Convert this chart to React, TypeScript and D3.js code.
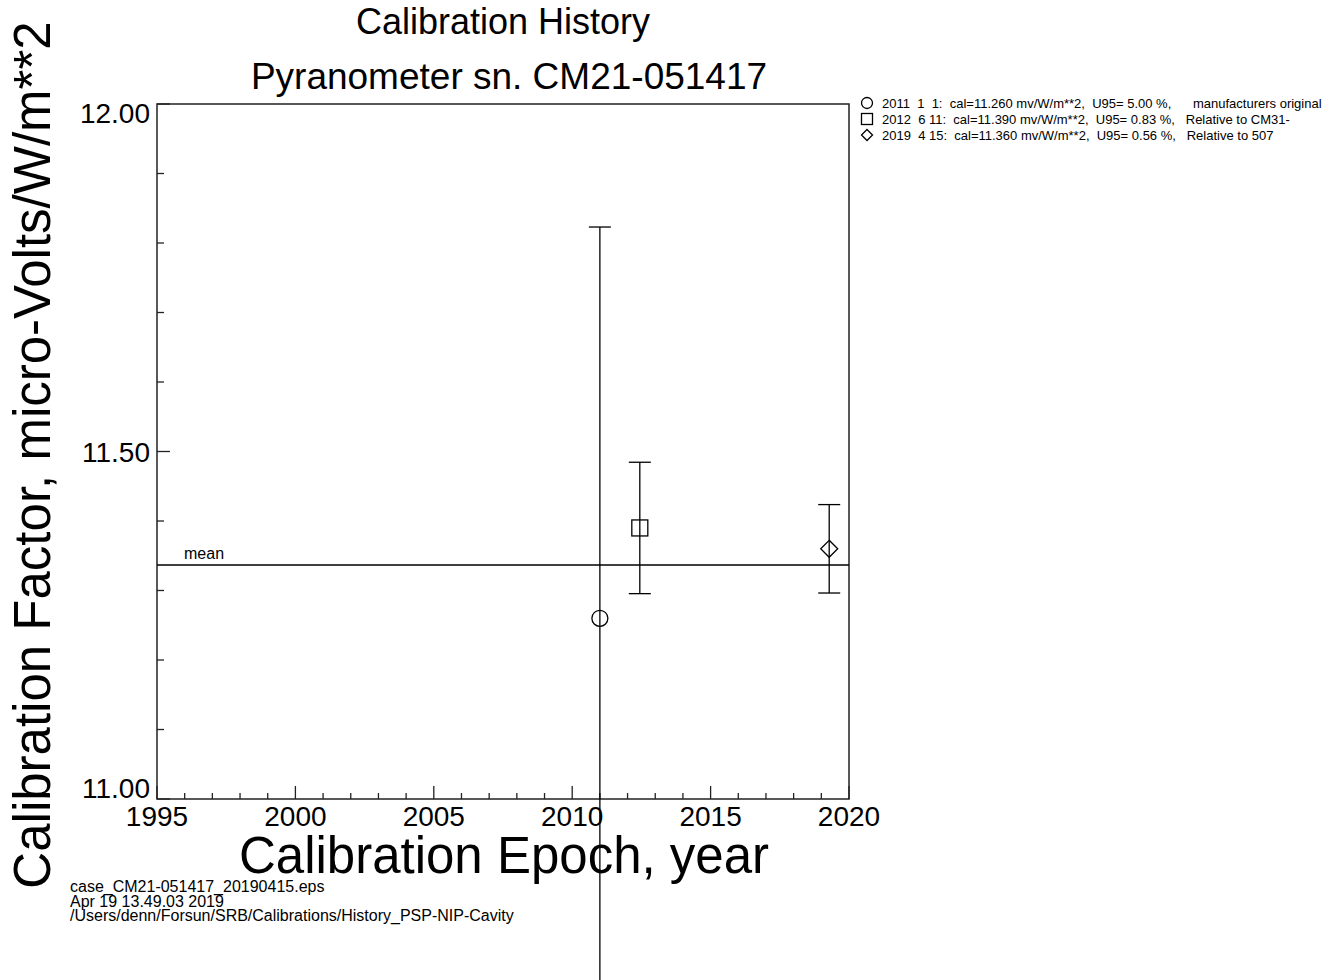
import * as d3 from "d3";

// calibration records
const calDates = ["2011-01-01", "2012-06-11", "2019-04-15"];
const calValues = [11.26, 11.39, 11.36];
const u95 = [5.0, 0.83, 0.56];
const markers = ["circle", "square", "diamond"];
const comments = ["      manufacturers original", "   Relative to CM31-", "   Relative to 507"];

const xTicks = d3.range(1995, 2021, 1);
const yTicks = d3.range(11, 12.0001, 0.1);
const xLabels = [1995, 2000, 2005, 2010, 2015, 2020];
const yLabels = [11.0, 11.5, 12.0];

const footer = [
  "case_CM21-051417_20190415.eps",
  "Apr 19 13.49.03 2019",
  "/Users/denn/Forsun/SRB/Calibrations/History_PSP-NIP-Cavity",
];

const FONT = "'Liberation Sans', Arial, Helvetica, sans-serif";

function decYear(s: string) {
  const d = new Date(s + "T00:00:00Z");
  const y = d.getUTCFullYear();
  const start = Date.UTC(y, 0, 1);
  const end = Date.UTC(y + 1, 0, 1);
  return y + (d.getTime() - start) / (end - start);
}

function Marker({ kind, cx, cy, r }: { kind: string; cx: number; cy: number; r: number }) {
  if (kind === "circle") return <circle cx={cx} cy={cy} r={r} fill="none" stroke="#000" strokeWidth={1.3} />;
  if (kind === "square")
    return <rect x={cx - r} y={cy - r} width={2 * r} height={2 * r} fill="none" stroke="#000" strokeWidth={1.3} />;
  return (
    <path
      d={`M${cx},${cy - r}L${cx + r},${cy}L${cx},${cy + r}L${cx - r},${cy}Z`}
      fill="none"
      stroke="#000"
      strokeWidth={1.3}
    />
  );
}

export default function App() {
  const x = d3.scaleLinear().domain([1995, 2020]).range([157, 849]);
  const y = d3.scaleLinear().domain([11, 12]).range([799, 104]);
  const [x0, x1] = x.range();
  const [y0, y1] = y.range();

  const pts = calDates.map((d, i) => ({
    t: decYear(d),
    v: calValues[i],
    e: (calValues[i] * u95[i]) / 100,
    m: markers[i],
  }));
  const mean = d3.mean(calValues) as number;

  const legend = calDates.map((d, i) => {
    const [yy, mm, dd] = d.split("-").map(Number);
    return (
      String(yy) +
      String(mm).padStart(3) +
      String(dd).padStart(3) +
      ":  cal=" +
      calValues[i].toFixed(3) +
      " mv/W/m**2,  U95=" +
      u95[i].toFixed(2).padStart(5) +
      " %," +
      comments[i]
    );
  });

  return (
    <svg
      width={1342}
      height={980}
      style={{ position: "absolute", left: 0, top: 0, background: "#fff" }}
      fontFamily={FONT}
    >
      {/* titles */}
      <text x={503} y={34} fontSize={36} textAnchor="middle">
        Calibration History
      </text>
      <text x={509} y={89} fontSize={37} textAnchor="middle">
        Pyranometer sn. CM21-051417
      </text>

      {/* frame */}
      <rect x={x0} y={y1} width={x1 - x0} height={y0 - y1} fill="none" stroke="#222" strokeWidth={1.5} />

      {/* x ticks */}
      {xTicks.map((t) => (
        <line
          key={"xt" + t}
          x1={x(t)}
          x2={x(t)}
          y1={y0}
          y2={y0 - (t % 5 === 0 ? 13 : 6)}
          stroke="#222"
          strokeWidth={1.3}
        />
      ))}
      {xLabels.map((t) => (
        <text key={"xl" + t} x={x(t)} y={826} fontSize={28} textAnchor="middle">
          {t}
        </text>
      ))}

      {/* y ticks */}
      {yTicks.map((t, i) => (
        <line
          key={"yt" + i}
          x1={x0}
          x2={x0 + (i % 5 === 0 ? 13 : 7)}
          y1={y(t)}
          y2={y(t)}
          stroke="#222"
          strokeWidth={1.3}
        />
      ))}
      {yLabels.map((t, i) => (
        <text
          key={"yl" + t}
          x={150}
          y={y(t) + (i === 0 ? -1 : i === yLabels.length - 1 ? 19 : 10.5)}
          fontSize={28}
          textAnchor="end"
        >
          {t.toFixed(2)}
        </text>
      ))}

      {/* axis titles */}
      <text x={504} y={873} fontSize={51} textAnchor="middle">
        Calibration Epoch, year
      </text>
      <text transform="translate(50,455) rotate(-90)" fontSize={51} textAnchor="middle">
        Calibration Factor, micro-Volts/W/m**2
      </text>

      {/* mean */}
      <line x1={x0} x2={x1} y1={y(mean)} y2={y(mean)} stroke="#000" strokeWidth={1.3} />
      <text x={184} y={559} fontSize={16}>
        mean
      </text>

      {/* error bars and markers */}
      {pts.map((p, i) => (
        <g key={"p" + i} stroke="#000" strokeWidth={1.3}>
          <line x1={x(p.t)} x2={x(p.t)} y1={y(p.v - p.e)} y2={y(p.v + p.e)} />
          <line x1={x(p.t) - 11} x2={x(p.t) + 11} y1={y(p.v + p.e)} y2={y(p.v + p.e)} />
          <line x1={x(p.t) - 11} x2={x(p.t) + 11} y1={y(p.v - p.e)} y2={y(p.v - p.e)} />
          <Marker kind={p.m} cx={x(p.t)} cy={y(p.v)} r={p.m === "diamond" ? 8.5 : 8} />
        </g>
      ))}

      {/* legend */}
      {legend.map((s, i) => (
        <g key={"lg" + i}>
          <Marker kind={markers[i]} cx={867} cy={103 + i * 16} r={5.5} />
          <text x={882} y={108 + i * 16} fontSize={13} style={{ whiteSpace: "pre" }}>
            {s}
          </text>
        </g>
      ))}

      {/* footer */}
      {footer.map((s, i) => (
        <text key={"ft" + i} x={70} y={892 + i * 14.5} fontSize={16}>
          {s}
        </text>
      ))}
    </svg>
  );
}
